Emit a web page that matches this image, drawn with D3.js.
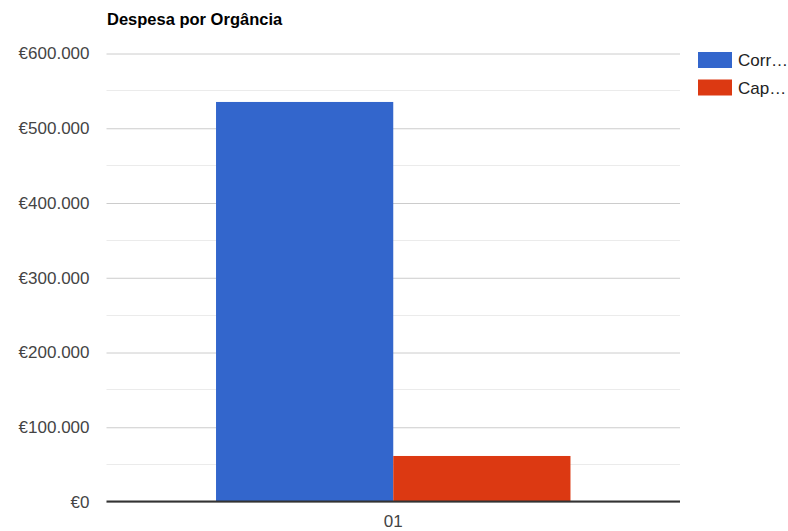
<!DOCTYPE html>
<html><head><meta charset="utf-8">
<script src="https://cdn.jsdelivr.net/npm/d3@7"></script>
<style>body{margin:0;background:#fff}svg{display:block;font-family:"Liberation Sans",Arial,sans-serif}</style>
</head><body><svg id="c" width="788" height="531"></svg>
<script>
const categories = ["01"];
const seriesNames = ["Corrente", "Capital"];
const seriesLegend = ["Corr…", "Cap…"];
const corrente = [534500];
const capital = [60900];
const yTicks = [0, 100000, 200000, 300000, 400000, 500000, 600000];
const colors = ["#3366cc", "#dc3912"];

const svg = d3.select("#c");
const m = {l: 106.5, r: 680, t: 53, b: 501.5};
const x = d3.scaleBand().domain(categories).range([m.l, m.r]).paddingInner(0).paddingOuter(0.309);
const x1 = d3.scaleBand().domain(seriesNames).range([0, x.bandwidth()]);
const y = d3.scaleLinear().domain([0, 600000]).range([m.b, m.t]);
const fmt = v => "€" + d3.format(",")(v).replace(/,/g, ".");

// minor gridlines
const minor = d3.range(50000, 600000, 100000);
svg.append("g").selectAll("line").data(minor).join("line")
  .attr("x1", m.l).attr("x2", m.r).attr("y1", d => Math.round(y(d)) + 0.5).attr("y2", d => Math.round(y(d)) + 0.5)
  .attr("stroke", "#ebebeb").attr("stroke-width", 1);
// major gridlines + labels via axis
const ax = svg.append("g").attr("transform", `translate(${m.l},0)`)
  .call(d3.axisLeft(y).tickValues(yTicks).tickFormat(fmt).tickSize(-(m.r - m.l)).tickPadding(17));
ax.select(".domain").remove();
ax.selectAll(".tick line").attr("stroke", "#cccccc").attr("transform", "translate(0,0.5)");
ax.selectAll(".tick text").attr("fill", "#444").attr("font-size", 17).attr("font-family", "Liberation Sans, Arial, sans-serif").attr("dy", "0.35em");

// bars
const data = categories.map((c, i) => ({c, vals: [corrente[i], capital[i]]}));
const g = svg.append("g");
data.forEach(d => {
  g.selectAll(null).data(d.vals).join("rect")
    .attr("x", (v, j) => x(d.c) + x1(seriesNames[j]))
    .attr("width", x1.bandwidth())
    .attr("y", v => y(v)).attr("height", v => y(0) - y(v))
    .attr("fill", (v, j) => colors[j]);
});

// baseline
svg.append("line").attr("x1", m.l).attr("x2", m.r).attr("y1", y(0)).attr("y2", y(0)).attr("stroke", "#333").attr("stroke-width", 2);

// x axis labels
svg.append("g").selectAll("text").data(categories).join("text")
  .attr("x", d => x(d) + x.bandwidth() / 2).attr("y", 527).attr("text-anchor", "middle")
  .attr("font-size", 17).attr("fill", "#444").text(d => d);

// title
svg.append("text").attr("x", 107).attr("y", 25).attr("font-size", 16.5).attr("font-weight", "bold").attr("fill", "#000").text("Despesa por Orgância");

// legend
const lg = svg.append("g");
seriesLegend.forEach((s, i) => {
  lg.append("rect").attr("x", 698).attr("y", 52 + i * 27.5).attr("width", 34).attr("height", 16).attr("fill", colors[i]);
  lg.append("text").attr("x", 738).attr("y", 66 + i * 27.5).attr("font-size", 17).attr("fill", "#222").text(s);
});
</script></body></html>
